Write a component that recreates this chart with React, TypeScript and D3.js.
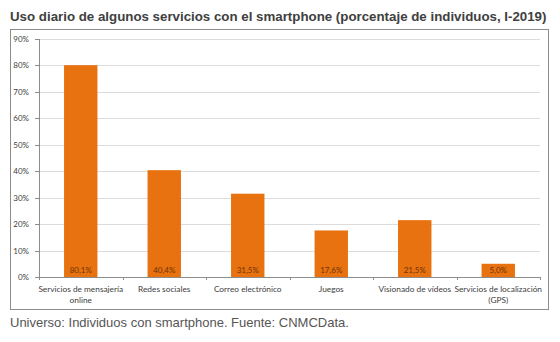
import React from "react";
import * as d3 from "d3";

const categories: string[][] = [
  ["Servicios de mensajería", "online"],
  ["Redes sociales"],
  ["Correo electrónico"],
  ["Juegos"],
  ["Visionado de vídeos"],
  ["Servicios de localización", "(GPS)"],
];
const values: number[] = [80.1, 40.4, 31.5, 17.6, 21.5, 5.0];
const valueLabels: string[] = ["80,1%", "40,4%", "31,5%", "17,6%", "21,5%", "5,0%"];
const yTicks: number[] = [0, 10, 20, 30, 40, 50, 60, 70, 80, 90];
const title = "Uso diario de algunos servicios con el smartphone (porcentaje de individuos, I-2019)";
const footer = "Universo: Individuos con smartphone. Fuente: CNMCData.";

export default function App() {
  const W = 560, H = 342;
  const left = 39, right = 540, top = 39, bottom = 277;
  const x = d3.scaleBand<number>().domain(d3.range(values.length)).range([left, right]).paddingInner(0.6).paddingOuter(0.3);
  const xc = d3.scaleBand<number>().domain(d3.range(values.length)).range([left, right]);
  const y = d3.scaleLinear().domain([0, 90]).range([bottom, top]);
  const font = "Lato, 'Open Sans', sans-serif";
  return (
    <svg width={W} height={H} style={{ position: "absolute", left: 0, top: 0, background: "#fff" }}>
      <text x={10} y={21} fontFamily="Arial, 'Liberation Sans', sans-serif" fontWeight="bold" fontSize={13.3} fill="#404040">{title}</text>
      <rect x={10.5} y={29.5} width={538} height={280} fill="#fff" stroke="#8c8c8c" strokeWidth={1} />
      {yTicks.map((t) => (
        <g key={t}>
          {t > 0 && <line x1={left} x2={right} y1={Math.round(y(t)) + 0.5} y2={Math.round(y(t)) + 0.5} stroke="#dcdcdc" />}
          <line x1={left - 4} x2={left} y1={Math.round(y(t)) + 0.5} y2={Math.round(y(t)) + 0.5} stroke="#8c8c8c" />
          <text x={left - 10} y={y(t) + 3} textAnchor="end" fontFamily={font} fontSize={8} fill="#404040">{t}%</text>
        </g>
      ))}
      {values.map((v, i) => (
        <g key={i}>
          <rect x={x(i)} y={y(v)} width={x.bandwidth()} height={bottom - y(v)} fill="#E8720F" />
          <text x={x(i)! + x.bandwidth() / 2} y={bottom - 4} textAnchor="middle" fontFamily={font} fontSize={8} fill="#6e3208">{valueLabels[i]}</text>
          {categories[i].map((line, j) => (
            <text key={j} x={xc(i)! + xc.bandwidth() / 2} y={bottom + 15 + j * 10.5} textAnchor="middle" fontFamily={font} fontSize={8.3} fill="#404040">{line}</text>
          ))}
        </g>
      ))}
      {d3.range(values.length + 1).map((i) => {
        const xx = Math.round(left + i * xc.bandwidth()) + 0.5;
        return <line key={i} x1={xx} x2={xx} y1={bottom} y2={bottom + 3} stroke="#8c8c8c" />;
      })}
      <line x1={left + 0.5} x2={left + 0.5} y1={top} y2={bottom} stroke="#8c8c8c" />
      <line x1={left} x2={right} y1={bottom + 0.5} y2={bottom + 0.5} stroke="#8c8c8c" />
      <text x={10} y={327} fontFamily="Arial, 'Liberation Sans', sans-serif" fontSize={13} fill="#555">{footer}</text>
    </svg>
  );
}
